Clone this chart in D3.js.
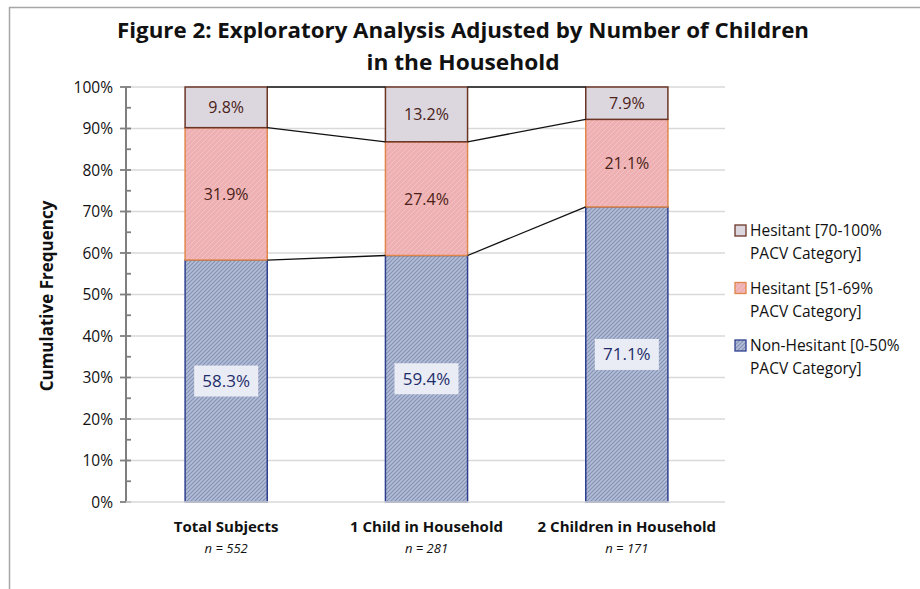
<!DOCTYPE html>
<html><head><meta charset="utf-8">
<script src="https://cdn.jsdelivr.net/npm/d3@7"></script>
<style>body{margin:0;background:#fff;}svg{display:block;font-family:"Open Sans",sans-serif;}</style>
</head><body><svg id="c" width="920" height="589"></svg>
<script>
const categories = ["Total Subjects","1 Child in Household","2 Children in Household"];
const sampleSizes = ["n = 552","n = 281","n = 171"];
const nonHesitant = [58.3, 59.4, 71.1];
const hesitantMid = [31.9, 27.4, 21.1];
const hesitantHigh = [9.8, 13.2, 7.9];
const seriesNames = ["Non-Hesitant [0-50%|PACV Category]","Hesitant [51-69%|PACV Category]","Hesitant [70-100%|PACV Category]"];
const yTicks = [0,10,20,30,40,50,60,70,80,90,100];
const titleLines = ["Figure 2: Exploratory Analysis Adjusted by Number of Children","in the Household"];

const svg = d3.select("#c");
// frame
svg.append("line").attr("x1",9).attr("y1",7.5).attr("x2",920).attr("y2",7.5).attr("stroke","#a6a6a6").attr("stroke-width",1.5);
svg.append("line").attr("x1",9.5).attr("y1",7).attr("x2",9.5).attr("y2",589).attr("stroke","#a6a6a6").attr("stroke-width",1.5);

const defs = svg.append("defs");
const pb = defs.append("pattern").attr("id","pBlue").attr("patternUnits","userSpaceOnUse").attr("width",4).attr("height",4);
pb.append("rect").attr("width",4).attr("height",4).attr("fill","#b3bdd6");
pb.append("path").attr("d","M0,4 L4,0 M-1,1 L1,-1 M3,5 L5,3").attr("stroke","#8391b5").attr("stroke-width",1.1);
const pp = defs.append("pattern").attr("id","pPink").attr("patternUnits","userSpaceOnUse").attr("width",5).attr("height",5);
pp.append("rect").attr("width",5).attr("height",5).attr("fill","#eeb0b2");
pp.append("path").attr("d","M0,5 L5,0 M-1,1 L1,-1 M4,6 L6,4").attr("stroke","#f3c4c5").attr("stroke-width",0.9);

const x = d3.scaleBand().domain(categories).range([126,727]).paddingInner(0.59).paddingOuter(0.295);
const y = d3.scaleLinear().domain([0,100]).range([502,87]);

// gridlines
svg.append("g").selectAll("line").data(yTicks.filter(d=>d>0)).join("line")
  .attr("x1",126).attr("x2",725).attr("y1",d=>y(d)).attr("y2",d=>y(d))
  .attr("stroke","#d9d9d9").attr("stroke-width",1.5);

// title
svg.append("g").selectAll("text").data(titleLines).join("text")
  .attr("x",463).attr("y",(d,i)=>38+i*32).attr("text-anchor","middle")
  .attr("font-size",22).attr("font-weight","bold").attr("fill","#111")
  .attr("textLength",(d,i)=>i===0?692:193).attr("lengthAdjust","spacingAndGlyphs")
  .text(d=>d);

// stacks
const rows = categories.map((c,i)=>({cat:c, a:nonHesitant[i], b:hesitantMid[i], c2:hesitantHigh[i]}));
const stack = d3.stack().keys(["a","b","c2"]);
const series = stack(rows);
const fills = ["url(#pBlue)","url(#pPink)","#dcd6df"];
const strokes = ["#2e3f8f","#e0864a","#6b3525"];
series.forEach((s,k)=>{
  svg.append("g").selectAll("rect").data(s).join("rect")
    .attr("x",d=>x(d.data.cat)).attr("width",x.bandwidth())
    .attr("y",d=>y(Math.min(100,d[1]))).attr("height",d=>y(d[0])-y(Math.min(100,d[1])))
    .attr("fill",fills[k]).attr("stroke",strokes[k]).attr("stroke-width",1.5);
});

// series lines
series.forEach((s,k)=>{
  for(let i=0;i<s.length-1;i++){
    svg.append("line")
      .attr("x1",x(categories[i])+x.bandwidth()).attr("x2",x(categories[i+1]))
      .attr("y1",y(Math.min(100,s[i][1]))).attr("y2",y(Math.min(100,s[i+1][1])))
      .attr("stroke","#111").attr("stroke-width",1.3);
  }
});

// labels
series.forEach((s,k)=>{
  const g = svg.append("g");
  s.forEach(d=>{
    const cx = x(d.data.cat)+x.bandwidth()/2;
    const cy = y((d[0]+Math.min(100,d[1]))/2);
    const v = d[1]-d[0];
    const txt = v.toFixed(1)+"%";
    if(k===0){
      g.append("rect").attr("x",cx-32).attr("y",cy-15.5).attr("width",64).attr("height",31).attr("fill","#e9ecf4");
      g.append("text").attr("x",cx).attr("y",cy+6).attr("text-anchor","middle").attr("font-size",17).attr("fill","#1f2c6b").text(txt);
    } else {
      g.append("text").attr("x",cx).attr("y",cy+6).attr("text-anchor","middle").attr("font-size",16).attr("fill","#4a2218").text(txt);
    }
  });
});

// y axis
const ax = svg.append("g");
ax.append("line").attr("x1",126).attr("x2",126).attr("y1",y(100)).attr("y2",y(0)).attr("stroke","#7f7f7f").attr("stroke-width",2);
ax.selectAll("line.maj").data(yTicks).join("line").attr("class","maj")
  .attr("x1",120).attr("x2",131).attr("y1",d=>y(d)).attr("y2",d=>y(d)).attr("stroke","#7f7f7f").attr("stroke-width",1.8);
ax.selectAll("line.min").data(yTicks.slice(0,-1).map(d=>d+5)).join("line").attr("class","min")
  .attr("x1",126).attr("x2",131).attr("y1",d=>y(d)).attr("y2",d=>y(d)).attr("stroke","#7f7f7f").attr("stroke-width",1.8);
ax.selectAll("text").data(yTicks).join("text")
  .attr("x",113).attr("y",d=>y(d)+5.5).attr("text-anchor","end").attr("font-size",15.5).attr("fill","#111")
  .text(d=>d+"%");
// x axis baseline
svg.append("line").attr("x1",126).attr("x2",725).attr("y1",y(0)).attr("y2",y(0)).attr("stroke","#d9d9d9").attr("stroke-width",1.5);

// x labels
svg.append("g").selectAll("text").data(categories).join("text")
  .attr("x",d=>x(d)+x.bandwidth()/2).attr("y",532).attr("text-anchor","middle")
  .attr("font-size",15).attr("font-weight","bold").attr("fill","#111").text(d=>d);
svg.append("g").selectAll("text").data(sampleSizes).join("text")
  .attr("x",(d,i)=>x(categories[i])+x.bandwidth()/2).attr("y",553).attr("text-anchor","middle")
  .attr("font-size",13).attr("font-style","italic").attr("fill","#111").text(d=>d);

// y title
svg.append("text").attr("transform","translate(53,296) rotate(-90)").attr("text-anchor","middle")
  .attr("font-size",17).attr("font-weight","bold").attr("fill","#111").text("Cumulative Frequency");

// legend
const legendOrder = [2,1,0];
const lg = svg.append("g");
legendOrder.forEach((k,j)=>{
  const y0 = 236 + j*57.5;
  lg.append("rect").attr("x",735).attr("y",y0-11).attr("width",11).attr("height",11)
    .attr("fill",fills[k]).attr("stroke",strokes[k]).attr("stroke-width",1.3);
  const parts = seriesNames[k].split("|");
  parts.forEach((p,m)=>{
    lg.append("text").attr("x",750).attr("y",y0+m*23).attr("font-size",15.5).attr("fill","#111").text(p);
  });
});
</script></body></html>
